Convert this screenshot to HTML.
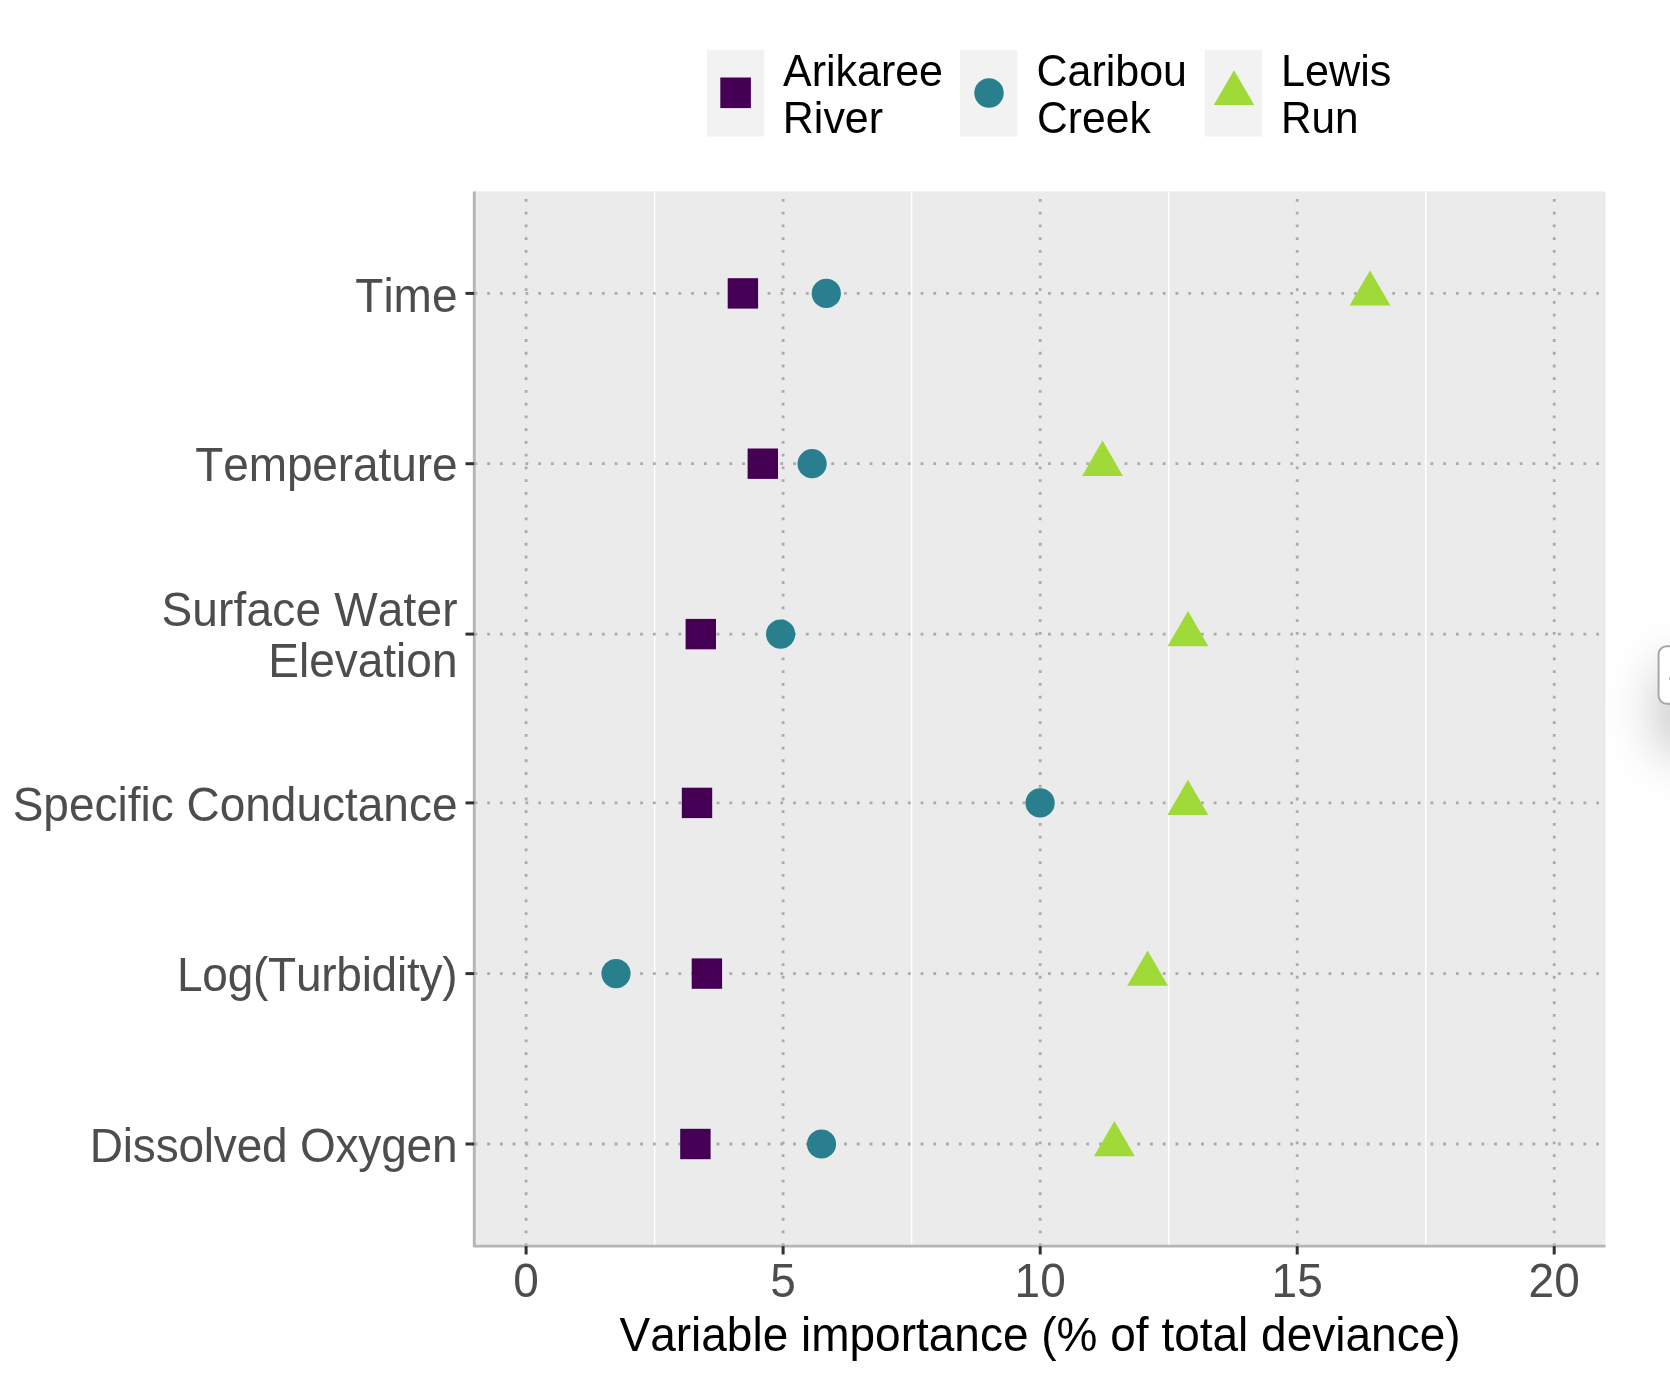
<!DOCTYPE html><html><head><meta charset="utf-8"><title>Variable importance</title>
<style>html,body{margin:0;padding:0;background:#fff;}body{width:1670px;height:1380px;overflow:hidden;position:relative;font-family:"Liberation Sans",sans-serif;}svg{position:absolute;left:0;top:0;will-change:transform;}text{font-family:"Liberation Sans",sans-serif;font-kerning:none;font-variant-ligatures:none;}</style></head><body>
<svg width="1670" height="1380" viewBox="0 0 1670 1380">
<defs><filter id="sh" x="-200%" y="-100%" width="500%" height="300%"><feGaussianBlur stdDeviation="27"/></filter><filter id="soft" x="0" y="0" width="1670" height="1380" filterUnits="userSpaceOnUse"><feGaussianBlur stdDeviation="0.45"/></filter></defs>
<g filter="url(#soft)">
<rect x="0" y="0" width="1670" height="1380" fill="#ffffff"/>
<rect x="474.26" y="191.4" width="1131.24" height="1054.6" fill="#ebebeb"/>
<line x1="654.6" x2="654.6" y1="191.4" y2="1246.0" stroke="#ffffff" stroke-width="1.5"/>
<line x1="911.6" x2="911.6" y1="191.4" y2="1246.0" stroke="#ffffff" stroke-width="1.5"/>
<line x1="1168.7" x2="1168.7" y1="191.4" y2="1246.0" stroke="#ffffff" stroke-width="1.5"/>
<line x1="1425.7" x2="1425.7" y1="191.4" y2="1246.0" stroke="#ffffff" stroke-width="1.5"/>
<line x1="526.1" x2="526.1" y1="1246.10" y2="191.4" stroke="#ababab" stroke-width="2.8" stroke-dasharray="2.8 9.935"/>
<line x1="783.1" x2="783.1" y1="1246.10" y2="191.4" stroke="#ababab" stroke-width="2.8" stroke-dasharray="2.8 9.935"/>
<line x1="1040.2" x2="1040.2" y1="1246.10" y2="191.4" stroke="#ababab" stroke-width="2.8" stroke-dasharray="2.8 9.935"/>
<line x1="1297.2" x2="1297.2" y1="1246.10" y2="191.4" stroke="#ababab" stroke-width="2.8" stroke-dasharray="2.8 9.935"/>
<line x1="1554.2" x2="1554.2" y1="1246.10" y2="191.4" stroke="#ababab" stroke-width="2.8" stroke-dasharray="2.8 9.935"/>
<line x1="474.45" x2="1605.5" y1="293.4" y2="293.4" stroke="#ababab" stroke-width="2.8" stroke-dasharray="2.8 9.947"/>
<line x1="474.45" x2="1605.5" y1="463.7" y2="463.7" stroke="#ababab" stroke-width="2.8" stroke-dasharray="2.8 9.947"/>
<line x1="474.45" x2="1605.5" y1="634.1" y2="634.1" stroke="#ababab" stroke-width="2.8" stroke-dasharray="2.8 9.947"/>
<line x1="474.45" x2="1605.5" y1="802.9" y2="802.9" stroke="#ababab" stroke-width="2.8" stroke-dasharray="2.8 9.947"/>
<line x1="474.45" x2="1605.5" y1="973.6" y2="973.6" stroke="#ababab" stroke-width="2.8" stroke-dasharray="2.8 9.947"/>
<line x1="474.45" x2="1605.5" y1="1144.0" y2="1144.0" stroke="#ababab" stroke-width="2.8" stroke-dasharray="2.8 9.947"/>
<path d="M474.26,191.4 L474.26,1246.1 L1605.5,1246.1" fill="none" stroke="#b5b5b5" stroke-width="2.9" stroke-linejoin="round"/>
<line x1="465.5" x2="474.26" y1="293.4" y2="293.4" stroke="#333333" stroke-width="3.0"/>
<line x1="465.5" x2="474.26" y1="463.7" y2="463.7" stroke="#333333" stroke-width="3.0"/>
<line x1="465.5" x2="474.26" y1="634.1" y2="634.1" stroke="#333333" stroke-width="3.0"/>
<line x1="465.5" x2="474.26" y1="802.9" y2="802.9" stroke="#333333" stroke-width="3.0"/>
<line x1="465.5" x2="474.26" y1="973.6" y2="973.6" stroke="#333333" stroke-width="3.0"/>
<line x1="465.5" x2="474.26" y1="1144.0" y2="1144.0" stroke="#333333" stroke-width="3.0"/>
<line x1="526.1" x2="526.1" y1="1246.1" y2="1254.5" stroke="#333333" stroke-width="3.0"/>
<line x1="783.1" x2="783.1" y1="1246.1" y2="1254.5" stroke="#333333" stroke-width="3.0"/>
<line x1="1040.2" x2="1040.2" y1="1246.1" y2="1254.5" stroke="#333333" stroke-width="3.0"/>
<line x1="1297.2" x2="1297.2" y1="1246.1" y2="1254.5" stroke="#333333" stroke-width="3.0"/>
<line x1="1554.2" x2="1554.2" y1="1246.1" y2="1254.5" stroke="#333333" stroke-width="3.0"/>
<rect x="727.7" y="278.2" width="30.4" height="30.4" fill="#440154"/>
<circle cx="826.3" cy="293.4" r="14.6" fill="#2a7f8e"/>
<polygon points="1370.0,270.3 1390.4,305.6 1349.6,305.6" fill="#a0da39"/>
<rect x="747.6" y="448.5" width="30.4" height="30.4" fill="#440154"/>
<circle cx="812.1" cy="463.7" r="14.6" fill="#2a7f8e"/>
<polygon points="1102.5,440.6 1122.9,475.9 1082.1,475.9" fill="#a0da39"/>
<rect x="685.6" y="618.9" width="30.4" height="30.4" fill="#440154"/>
<circle cx="780.6" cy="634.1" r="14.6" fill="#2a7f8e"/>
<polygon points="1188.0,611.0 1208.4,646.3 1167.6,646.3" fill="#a0da39"/>
<rect x="681.8" y="787.7" width="30.4" height="30.4" fill="#440154"/>
<circle cx="1040.1" cy="802.9" r="14.6" fill="#2a7f8e"/>
<polygon points="1187.9,779.8 1208.3,815.1 1167.5,815.1" fill="#a0da39"/>
<rect x="691.7" y="958.4" width="30.4" height="30.4" fill="#440154"/>
<circle cx="616.0" cy="973.6" r="14.6" fill="#2a7f8e"/>
<polygon points="1147.6,950.5 1168.0,985.8 1127.2,985.8" fill="#a0da39"/>
<rect x="680.2" y="1128.8" width="30.4" height="30.4" fill="#440154"/>
<circle cx="821.5" cy="1144.0" r="14.6" fill="#2a7f8e"/>
<polygon points="1114.4,1120.9 1134.8,1156.2 1094.0,1156.2" fill="#a0da39"/>
<text transform="translate(457.50,311.50) scale(1,1.03)" font-size="46" fill="#4d4d4d" text-anchor="end">Time</text>
<text transform="translate(457.40,481.30) scale(1,1.03)" font-size="46" fill="#4d4d4d" text-anchor="end" letter-spacing="-0.1">Temperature</text>
<text transform="translate(457.67,625.90) scale(1,1.03)" font-size="46" fill="#4d4d4d" text-anchor="end" letter-spacing="0.17">Surface Water</text>
<text transform="translate(457.50,677.20) scale(1,1.03)" font-size="46" fill="#4d4d4d" text-anchor="end">Elevation</text>
<text transform="translate(457.50,820.60) scale(1,1.03)" font-size="46" fill="#4d4d4d" text-anchor="end">Specific Conductance</text>
<text transform="translate(457.25,991.20) scale(1,1.03)" font-size="46" fill="#4d4d4d" text-anchor="end" letter-spacing="-0.25">Log(Turbidity)</text>
<text transform="translate(457.30,1161.60) scale(1,1.03)" font-size="46" fill="#4d4d4d" text-anchor="end" letter-spacing="-0.2">Dissolved Oxygen</text>
<text transform="translate(526.15,1296.60) scale(1,1.03)" font-size="46" fill="#4d4d4d" text-anchor="middle">0</text>
<text transform="translate(783.15,1296.60) scale(1,1.03)" font-size="46" fill="#4d4d4d" text-anchor="middle">5</text>
<text transform="translate(1040.15,1296.60) scale(1,1.03)" font-size="46" fill="#4d4d4d" text-anchor="middle">10</text>
<text transform="translate(1297.15,1296.60) scale(1,1.03)" font-size="46" fill="#4d4d4d" text-anchor="middle">15</text>
<text transform="translate(1554.15,1296.60) scale(1,1.03)" font-size="46" fill="#4d4d4d" text-anchor="middle">20</text>
<text transform="translate(1040.00,1350.70) scale(1,1.03)" font-size="46" fill="#000000" text-anchor="middle">Variable importance (% of total deviance)</text>
<rect x="707.0" y="49.7" width="57.2" height="86.8" fill="#f2f2f2"/>
<rect x="960.2" y="49.7" width="57.2" height="86.8" fill="#f2f2f2"/>
<rect x="1204.8" y="49.7" width="57.2" height="86.8" fill="#f2f2f2"/>
<rect x="720.3" y="77.5" width="30.6" height="30.6" fill="#440154"/>
<circle cx="989.0" cy="93.0" r="14.7" fill="#2a7f8e"/>
<polygon points="1234.0,70.3 1254.2,105.1 1213.8,105.1" fill="#a0da39"/>
<text transform="translate(783.00,85.90) scale(1,1.03)" font-size="43" fill="#000000">Arikaree</text>
<text transform="translate(782.80,133.00) scale(1,1.03)" font-size="43" fill="#000000">River</text>
<text transform="translate(1036.50,85.90) scale(1,1.03)" font-size="43" fill="#000000">Caribou</text>
<text transform="translate(1037.10,133.00) scale(1,1.03)" font-size="42.6" fill="#000000">Creek</text>
<text transform="translate(1281.00,85.90) scale(1,1.03)" font-size="43.2" fill="#000000">Lewis</text>
<text transform="translate(1281.00,133.00) scale(1,1.03)" font-size="42.3" fill="#000000">Run</text>
<rect x="1660" y="668" width="60" height="84" rx="9" fill="#000" opacity="0.25" filter="url(#sh)"/>
<rect x="1658.6" y="646.2" width="40" height="57.5" rx="8" fill="#ffffff" stroke="#a8a8a8" stroke-width="2"/>
<rect x="1669.2" y="677.2" width="1" height="2.6" fill="#8a93d0"/>
</g></svg></body></html>
